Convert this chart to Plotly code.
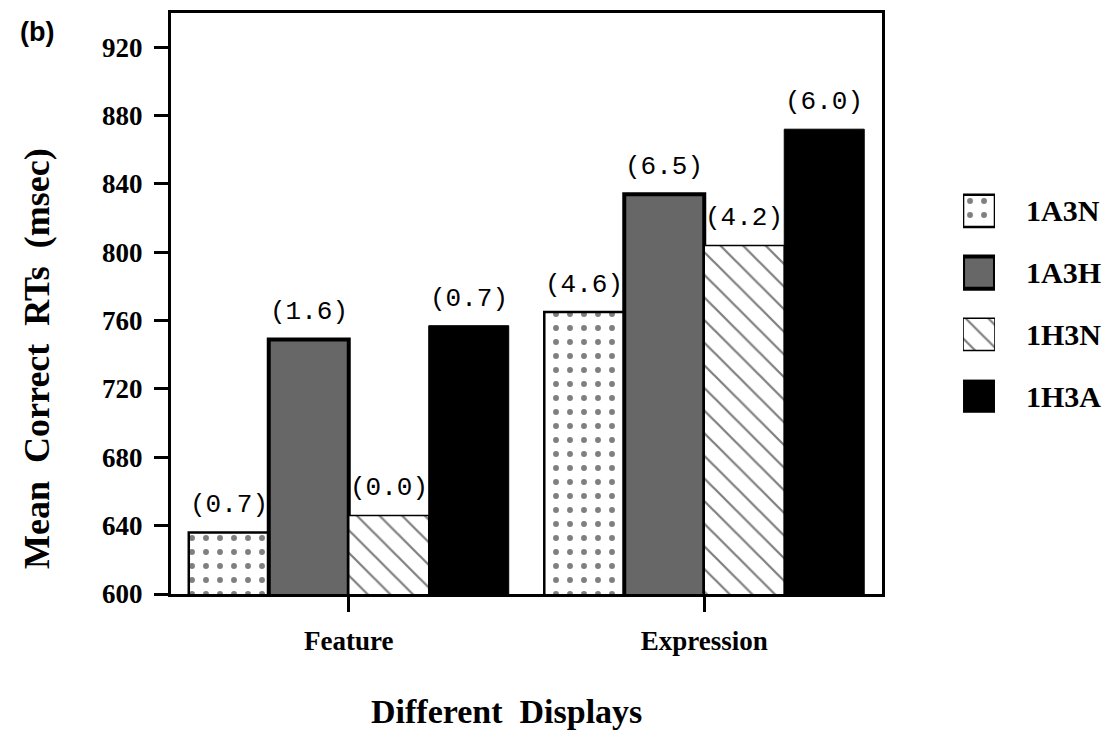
import plotly.graph_objects as go

# ---------------- data ----------------
categories = ["Feature", "Expression"]
series_names = ["1A3N", "1A3H", "1H3N", "1H3A"]
rt_1A3N = [636, 765]
rt_1A3H = [749, 834]
rt_1H3N = [646, 804]
rt_1H3A = [757, 872]
err_1A3N = ["(0.7)", "(4.6)"]
err_1A3H = ["(1.6)", "(6.5)"]
err_1H3N = ["(0.0)", "(4.2)"]
err_1H3A = ["(0.7)", "(6.0)"]
y_ticks = [600, 640, 680, 720, 760, 800, 840, 880, 920]
y_title = "Mean  Correct  RTs  (msec)"
x_title = "Different  Displays"
panel_label = "(b)"

values = [rt_1A3N, rt_1A3H, rt_1H3N, rt_1H3A]
errors = [err_1A3N, err_1A3H, err_1H3N, err_1H3A]

# ---------------- styles ----------------
styles = {
    "1A3N": dict(color="white", pattern=dict(shape=".", fgcolor="black", bgcolor="white", size=14, solidity=0.14, fillmode="overlay"), lw=2.5),
    "1A3H": dict(color="#676767", pattern=None, lw=4),
    "1H3N": dict(color="white", pattern=dict(shape="\\", fgcolor="black", bgcolor="white", size=16, solidity=0.14, fillmode="overlay"), lw=1.5),
    "1H3A": dict(color="black", pattern=None, lw=1),
}

SERIF = "Liberation Serif"
MONO = "Liberation Mono"

fig = go.Figure()

for name, vals in zip(series_names, values):
    st = styles[name]
    marker = dict(color=st["color"], line=dict(color="black", width=st["lw"]))
    if st["pattern"]:
        marker["pattern"] = st["pattern"]
    fig.add_trace(go.Bar(x=categories, y=vals, name=name, marker=marker,
                         showlegend=False, xaxis="x", yaxis="y"))
    # legend swatch drawn on a small auxiliary subplot
    fig.add_trace(go.Bar(x=[1], y=[name], orientation="h", width=0.52, marker=marker,
                         showlegend=False, xaxis="x2", yaxis="y2", hoverinfo="skip"))

# error labels above each bar
n = len(series_names)
group_w = 0.9
bw = group_w / n
annotations = []
for j, (vals, errs) in enumerate(zip(values, errors)):
    for i, (v, e) in enumerate(zip(vals, errs)):
        annotations.append(dict(x=i - group_w / 2 + bw * (j + 0.5), y=v, xref="x", yref="y",
                                text=e, showarrow=False, yanchor="bottom", yshift=10,
                                font=dict(family=MONO, size=26, color="black")))

annotations.append(dict(x=-0.1425, y=0.405, xref="paper", yref="paper", text=y_title,
                        textangle=-90, showarrow=False, xanchor="center", yanchor="middle",
                        font=dict(family=SERIF, size=36, color="black", weight="bold")))
annotations.append(dict(x=0.357, y=-0.203, xref="paper", yref="paper", text=x_title,
                        showarrow=False, xanchor="center", yanchor="middle",
                        font=dict(family=SERIF, size=34, color="black", weight="bold")))
annotations.append(dict(x=-0.143, y=0.967, xref="paper", yref="paper", text=panel_label,
                        showarrow=False, xanchor="center", yanchor="middle",
                        font=dict(family="Liberation Sans", size=27, color="black", weight="bold")))

main_dom = 711 / 939
fig.update_layout(
    width=1115, height=734,
    margin=dict(l=171, r=5, t=13, b=140),
    paper_bgcolor="white", plot_bgcolor="white",
    barmode="group", bargap=0.1, bargroupgap=0,
    showlegend=False,
    annotations=annotations,
    xaxis=dict(domain=[0, main_dom], range=[-0.5, 1.5], type="category",
               showline=True, linewidth=3, linecolor="black", mirror=True,
               ticks="outside", ticklen=15, tickwidth=3, tickcolor="black",
               ticklabelstandoff=6,
               tickfont=dict(family=SERIF, size=27, color="black", weight="bold"),
               showgrid=False, zeroline=False),
    yaxis=dict(domain=[0, 1], range=[600, 940], tickvals=y_ticks,
               showline=True, linewidth=3, linecolor="black", mirror=True,
               ticks="outside", ticklen=14, tickwidth=3, tickcolor="black",
               ticklabelstandoff=6,
               tickfont=dict(family=SERIF, size=27, color="black", weight="bold"),
               showgrid=False, zeroline=False),
    xaxis2=dict(domain=[0.8435, 0.8775], range=[0, 1], anchor="y2", visible=False,
                fixedrange=True),
    yaxis2=dict(domain=[0.2874, 0.7126], anchor="x2", type="category",
                categoryorder="array", categoryarray=series_names, autorange="reversed",
                side="right", showline=False, ticks="", showgrid=False, zeroline=False,
                ticklabelstandoff=30,
                tickfont=dict(family=SERIF, size=30, color="black", weight="bold")),
)

fig.write_html("out.html")
